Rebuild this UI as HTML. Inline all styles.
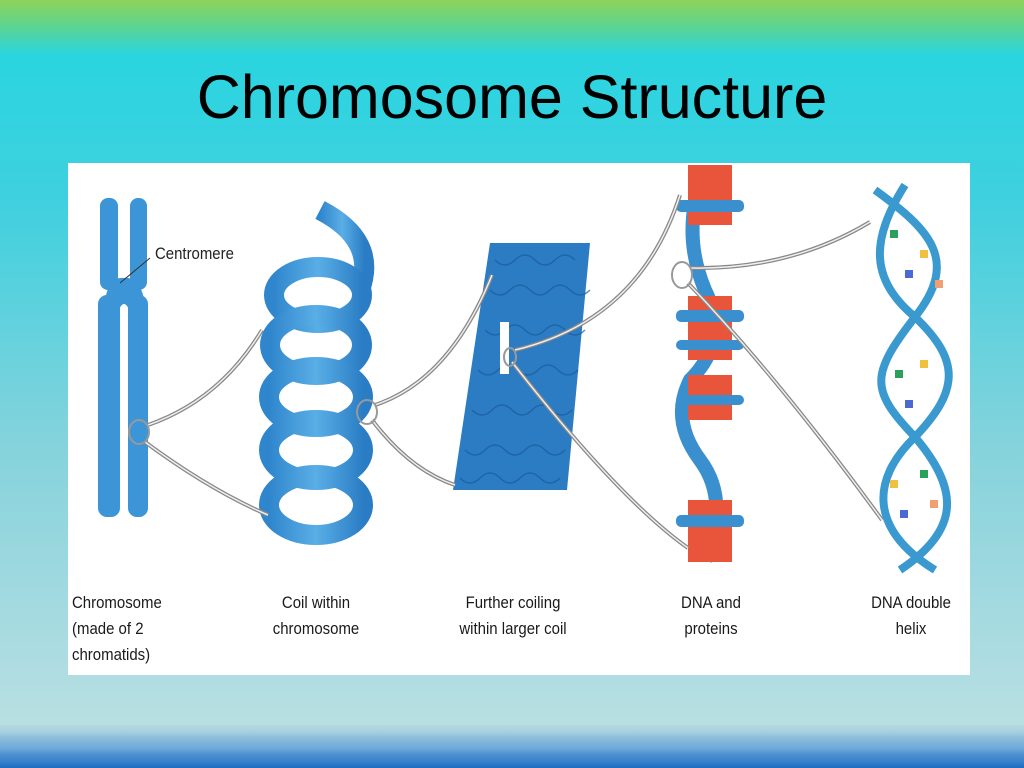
<!DOCTYPE html>
<html><head><meta charset="utf-8"><style>
html,body{margin:0;padding:0}
body{width:1024px;height:768px;position:relative;overflow:hidden;
background:linear-gradient(to bottom,#8ed35a 0px,#5fd48e 25px,#2ad5e0 55px,#3fd0df 200px,#86d3dc 450px,#b4dee2 700px,#b8e0e2 725px);
font-family:"Liberation Sans",sans-serif}
.title{position:absolute;left:0;width:1024px;top:62px;text-align:center;font-size:61px;color:#000;line-height:70px}
.stripes{position:absolute;left:0;top:725px;width:1024px;height:43px;
background:linear-gradient(to bottom,#b4d9df 0,#a9d2dd 6px,#8fc0dc 12px,#7eb3d8 18px,#6aa7da 24px,#4b8fd0 30px,#3a82cc 36px,#1c6cc2 43px)}
.panel{position:absolute;left:68px;top:163px;width:902px;height:512px;background:#fff}
.lbl{position:absolute;font-size:17px;line-height:26px;color:#1a1a1a;transform:scaleX(0.88);transform-origin:left top}
.c{text-align:center;transform-origin:center top}
</style></head><body>
<div class="title">Chromosome Structure</div>
<div class="panel"></div>
<svg style="position:absolute;left:0;top:0" width="1024" height="768">
<defs>
<linearGradient id="bl" x1="0" x2="1"><stop offset="0" stop-color="#2f86cc"/><stop offset=".5" stop-color="#5aaee6"/><stop offset="1" stop-color="#2a7dc4"/></linearGradient>
</defs>
<!-- chromosome -->
<g fill="#3b95d6">
<rect x="100" y="198" width="18" height="92" rx="8"/>
<rect x="130" y="198" width="17" height="92" rx="8"/>
<rect x="98" y="295" width="22" height="222" rx="9"/>
<rect x="128" y="295" width="20" height="222" rx="9"/>
<path d="M104 310 Q106 276 124 278 Q142 276 146 310 L130 312 Q124 296 118 312 Z"/>
</g>
<path d="M120 283 L150 258" stroke="#333" stroke-width="1"/>
<text x="155" y="259" font-size="17" fill="#222" transform="translate(155 0) scale(0.88 1) translate(-155 0)">Centromere</text>
<!-- coil -->
<g fill="none" stroke="url(#bl)" stroke-width="20">
<path d="M320 210 Q378 240 360 290"/>
<ellipse cx="318" cy="295" rx="44" ry="28"/>
<ellipse cx="316" cy="345" rx="46" ry="30"/>
<ellipse cx="316" cy="397" rx="47" ry="30"/>
<ellipse cx="316" cy="450" rx="47" ry="30"/>
<ellipse cx="316" cy="505" rx="47" ry="30"/>
</g>
<!-- textured column -->
<polygon points="490,243 590,243 567,490 453,490" fill="#2c7cc4"/>
<g fill="none" stroke="#1a5a9a" stroke-width="1.5" opacity=".7">
<path d="M495 260 q10 10 20 0 t20 0 t20 0 t20 0 M490 290 q10 10 20 0 t20 0 t20 0 t20 0 t20 0 M485 330 q10 10 20 0 t20 0 t20 0 t20 0 t20 0 M478 370 q10 10 20 0 t20 0 t20 0 t20 0 t20 0 M472 410 q10 10 20 0 t20 0 t20 0 t20 0 t20 0 M465 450 q10 10 20 0 t20 0 t20 0 t20 0 t20 0 M460 478 q10 10 20 0 t20 0 t20 0 t20 0 t20 0"/>
</g>
<rect x="500" y="322" width="9" height="52" fill="#fff"/>
<!-- DNA proteins -->
<g>
<path d="M705 170 Q680 230 705 290 Q730 340 690 380 Q670 420 700 460 Q730 500 705 560" fill="none" stroke="#3a8fcf" stroke-width="14"/>
<rect x="688" y="165" width="44" height="60" fill="#e8553a"/>
<rect x="676" y="200" width="68" height="12" fill="#3a8fcf" rx="5"/>
<rect x="688" y="296" width="44" height="64" fill="#e8553a"/>
<rect x="676" y="310" width="68" height="12" fill="#3a8fcf" rx="5"/>
<rect x="676" y="340" width="68" height="10" fill="#3a8fcf" rx="5"/>
<rect x="688" y="375" width="44" height="45" fill="#e8553a"/>
<rect x="676" y="395" width="68" height="10" fill="#3a8fcf" rx="5"/>
<rect x="688" y="500" width="44" height="62" fill="#e8553a"/>
<rect x="676" y="515" width="68" height="12" fill="#3a8fcf" rx="5"/>
</g>
<!-- double helix -->
<g fill="none" stroke="#3a9ad0" stroke-width="8">
<path d="M875 190 C930 230 960 260 915 317 C870 375 870 390 915 437 C960 490 960 530 900 570"/>
<path d="M905 185 C870 240 870 280 915 317 C960 360 960 390 915 437 C870 480 870 530 935 570"/>
</g>
<g>
<rect x="890" y="230" width="8" height="8" fill="#2aa05a"/><rect x="920" y="250" width="8" height="8" fill="#f0c040"/><rect x="905" y="270" width="8" height="8" fill="#4a6ad0"/><rect x="935" y="280" width="8" height="8" fill="#f0a070"/>
<rect x="895" y="370" width="8" height="8" fill="#2aa05a"/><rect x="920" y="360" width="8" height="8" fill="#f0c040"/><rect x="905" y="400" width="8" height="8" fill="#4a6ad0"/>
<rect x="890" y="480" width="8" height="8" fill="#f0c040"/><rect x="920" y="470" width="8" height="8" fill="#2aa05a"/><rect x="930" y="500" width="8" height="8" fill="#f0a070"/><rect x="900" y="510" width="8" height="8" fill="#4a6ad0"/>
</g>
<!-- connectors -->
<g fill="none" stroke="#888" stroke-width="4">
<path d="M148 425 Q220 400 262 330"/>
<path d="M145 442 Q210 490 268 515"/>
<path d="M375 405 Q450 380 492 275"/>
<path d="M372 420 Q410 470 455 485"/>
<path d="M515 350 Q640 320 680 195"/>
<path d="M512 362 Q620 500 688 548"/>
<path d="M690 268 Q790 270 870 222"/>
<path d="M688 283 Q780 380 882 520"/>
</g>
<g fill="none" stroke="#eee" stroke-width="1.5">
<path d="M148 425 Q220 400 262 330"/>
<path d="M145 442 Q210 490 268 515"/>
<path d="M375 405 Q450 380 492 275"/>
<path d="M372 420 Q410 470 455 485"/>
<path d="M515 350 Q640 320 680 195"/>
<path d="M512 362 Q620 500 688 548"/>
<path d="M690 268 Q790 270 870 222"/>
<path d="M688 283 Q780 380 882 520"/>
</g>
<g fill="none" stroke="#999" stroke-width="2">
<ellipse cx="139" cy="432" rx="10" ry="12"/>
<ellipse cx="367" cy="412" rx="10" ry="12"/>
<ellipse cx="510" cy="357" rx="6" ry="9"/>
<ellipse cx="682" cy="275" rx="10" ry="13"/>
</g>
</svg>
<div class="lbl" style="left:72px;top:590px">Chromosome<br>(made of 2<br>chromatids)</div>
<div class="lbl c" style="left:236px;width:160px;top:590px">Coil within<br>chromosome</div>
<div class="lbl c" style="left:433px;width:160px;top:590px">Further coiling<br>within larger coil</div>
<div class="lbl c" style="left:631px;width:160px;top:590px">DNA and<br>proteins</div>
<div class="lbl c" style="left:831px;width:160px;top:590px">DNA double<br>helix</div>
<div class="stripes"></div>
</body></html>
